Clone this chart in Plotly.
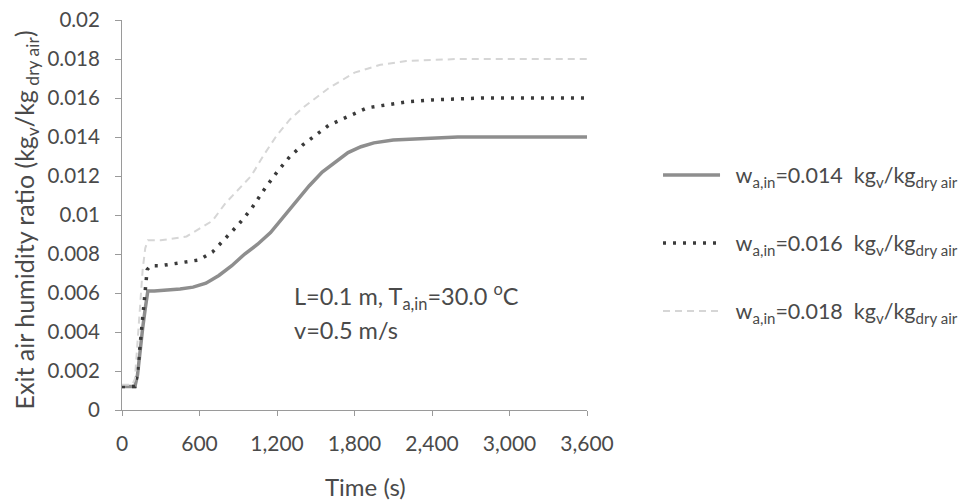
import plotly.graph_objects as go

# ---- data ----
t_014 = [0, 50, 100, 120, 140, 160, 180, 200, 250, 350, 450, 550, 650, 750, 850, 950,
         1050, 1150, 1250, 1350, 1450, 1550, 1650, 1750, 1850, 1950, 2100, 2250, 2400,
         2600, 2800, 3000, 3200, 3400, 3600]
w_014 = [0.0012, 0.0012, 0.0012, 0.0018, 0.0031, 0.0042, 0.0052, 0.0061, 0.0061, 0.00615,
         0.0062, 0.0063, 0.0065, 0.0069, 0.0074, 0.0080, 0.0085, 0.0091, 0.0099, 0.0107,
         0.0115, 0.0122, 0.0127, 0.0132, 0.0135, 0.0137, 0.01385, 0.0139, 0.01395,
         0.0140, 0.0140, 0.0140, 0.0140, 0.0140, 0.0140]

t_016 = [0, 100, 120, 140, 160, 180, 195, 220, 300, 400, 500, 600, 700, 800, 900, 1000,
         1100, 1200, 1300, 1400, 1500, 1600, 1700, 1800, 1900, 2000, 2200, 2400, 2600,
         2800, 3000, 3200, 3400, 3600]
w_016 = [0.0012, 0.0012, 0.0019, 0.0033, 0.0048, 0.0063, 0.0072, 0.0074, 0.0074, 0.0075,
         0.0076, 0.0077, 0.0081, 0.0088, 0.0095, 0.0103, 0.0113, 0.0122, 0.0130, 0.0136,
         0.0141, 0.0146, 0.0149, 0.0152, 0.0155, 0.0156, 0.0158, 0.0159, 0.01595,
         0.0160, 0.0160, 0.0160, 0.0160, 0.0160]

t_018 = [0, 80, 100, 120, 140, 160, 180, 200, 300, 400, 500, 600, 700, 800, 900, 1000,
         1100, 1200, 1300, 1400, 1500, 1600, 1700, 1800, 1900, 2000, 2200, 2400, 2600,
         2800, 3000, 3200, 3400, 3600]
w_018 = [0.0013, 0.0013, 0.0016, 0.0035, 0.0055, 0.0072, 0.0083, 0.0087, 0.0087, 0.0088,
         0.0089, 0.0093, 0.0097, 0.0106, 0.0113, 0.0120, 0.0131, 0.0141, 0.0149, 0.0155,
         0.0160, 0.0165, 0.0169, 0.0173, 0.0175, 0.0177, 0.0179, 0.01795, 0.0180,
         0.0180, 0.0180, 0.0180, 0.0180, 0.0180]

x_ticks = [0, 600, 1200, 1800, 2400, 3000, 3600]
x_tick_labels = ["0", "600", "1,200", "1,800", "2,400", "3,000", "3,600"]
y_ticks = [0, 0.002, 0.004, 0.006, 0.008, 0.01, 0.012, 0.014, 0.016, 0.018, 0.02]
y_tick_labels = ["0", "0.002", "0.004", "0.006", "0.008", "0.01", "0.012", "0.014",
                 "0.016", "0.018", "0.02"]

series_names = [
    "\u00a0\u00a0w<sub>a,in</sub>=0.014\u00a0\u00a0kg<sub>v</sub>/kg<sub>dry air</sub>",
    "\u00a0\u00a0w<sub>a,in</sub>=0.016\u00a0\u00a0kg<sub>v</sub>/kg<sub>dry air</sub>",
    "\u00a0\u00a0w<sub>a,in</sub>=0.018\u00a0\u00a0kg<sub>v</sub>/kg<sub>dry air</sub>",
]

FONT = "Lato, 'Open Sans', sans-serif"
TXT = "#4a4a4a"

fig = go.Figure()
fig.add_trace(go.Scatter(x=t_014, y=w_014, mode="lines", name=series_names[0],
                         legendgroup="a", line=dict(color="#8e8e8e", width=3.5)))
fig.add_trace(go.Scatter(x=t_016, y=w_016, mode="lines", name=series_names[1],
                         legendgroup="b",
                         line=dict(color="#3a3a3a", width=3.5, dash="3px,7px")))
fig.add_trace(go.Scatter(x=t_018, y=w_018, mode="lines", name=series_names[2],
                         legendgroup="c",
                         line=dict(color="#d6d6d6", width=2, dash="7px,5px")))

# page body has an 8px margin, so the figure is drawn 8px smaller than the window
fig.update_layout(
    width=963, height=495,
    margin=dict(l=114, r=384, t=12, b=93, autoexpand=False),
    paper_bgcolor="white", plot_bgcolor="white",
    font=dict(family=FONT, color=TXT, size=20),
    showlegend=True,
    legend=dict(xref="container", yref="container", x=0.675, y=0.704,
                xanchor="left", yanchor="top",
                font=dict(family=FONT, size=21.5, color=TXT),
                itemwidth=57, tracegroupgap=37, traceorder="grouped",
                bgcolor="rgba(0,0,0,0)"),
    xaxis=dict(range=[0, 3600], tickvals=x_ticks, ticktext=x_tick_labels,
               automargin=False,
               showgrid=False, zeroline=False, showline=True, linecolor="#9a9a9a",
               linewidth=1, ticks="outside", ticklen=5, tickcolor="#9a9a9a",
               tickfont=dict(size=21, color=TXT, family=FONT), ticklabelstandoff=10),
    yaxis=dict(range=[0, 0.02], tickvals=y_ticks, ticktext=y_tick_labels,
               automargin=False,
               showgrid=False, zeroline=False, showline=True, linecolor="#9a9a9a",
               linewidth=1, ticks="outside", ticklen=6, tickcolor="#9a9a9a",
               ticklabeloverflow="allow",
               tickfont=dict(size=20.5, color=TXT, family=FONT), ticklabelstandoff=11),
    annotations=[
        dict(text="Exit air humidity ratio (kg<sub>v</sub>/kg<sub> dry air</sub>)",
             xref="paper", yref="paper", x=-0.207, y=0.488, textangle=-90,
             showarrow=False, xanchor="center", yanchor="middle",
             font=dict(size=25, color=TXT, family=FONT)),
        dict(text="Time (s)", xref="paper", yref="paper", x=0.523, y=-0.197,
             showarrow=False, xanchor="center", yanchor="middle",
             font=dict(size=24, color=TXT, family=FONT)),
        dict(text="L=0.1 m, T<sub>a,in</sub>=30.0 <sup>o</sup>C", xref="paper",
             yref="paper", x=0.366, y=0.29, showarrow=False, xanchor="left",
             yanchor="middle", font=dict(size=23.5, color=TXT, family=FONT)),
        dict(text="v=0.5 m/s", xref="paper", yref="paper", x=0.366, y=0.205,
             showarrow=False, xanchor="left", yanchor="middle",
             font=dict(size=23.5, color=TXT, family=FONT)),
    ],
)

fig.write_html("out.html")
